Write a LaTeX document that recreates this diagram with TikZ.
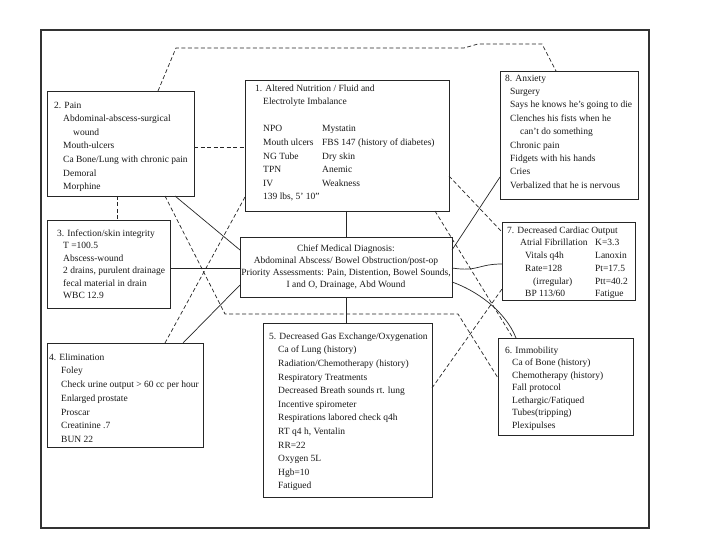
\documentclass[tikz,border=0pt]{standalone}
\usepackage{fontspec}
\setmainfont{Liberation Serif}
\newcommand\firstln{\rule{0pt}{7pt}}
\begin{document}
\begin{tikzpicture}[x=1pt,y=-1pt,
  boxshape/.style={draw=black!85, line width=0.8pt, anchor=north west, inner sep=0pt, outer sep=0pt},
  framebox/.style={draw=black!80, line width=1.6pt, anchor=north west, inner sep=0pt, outer sep=0pt},
  txt/.style={anchor=north west, inner sep=0pt, align=left, text=black!90},
  link/.style={draw=black!85, line width=0.7pt},
  dlink/.style={link, dash pattern=on 4pt off 2.5pt}]
\useasboundingbox (0,0) rectangle (720,540);
\fill[white] (0,0) rectangle (720,540);

% frame
\node[framebox, minimum width=608pt, minimum height=498pt] (frame) at (41,30) {};

% boxes
\node[boxshape, minimum width=147pt, minimum height=105pt] (b2) at (47,91) {};
\node[boxshape, minimum width=204pt, minimum height=131pt] (b1) at (245,80) {};
\node[boxshape, minimum width=138pt, minimum height=128pt] (b8) at (500,71) {};
\node[boxshape, minimum width=123pt, minimum height=88pt] (b3) at (47,220) {};
\node[boxshape, minimum width=212pt, minimum height=60pt] (bc) at (240,237) {};
\node[boxshape, minimum width=133pt, minimum height=78pt] (b7) at (502,222) {};
\node[boxshape, minimum width=156pt, minimum height=104pt] (b4) at (47,343) {};
\node[boxshape, minimum width=169pt, minimum height=174pt] (b5) at (263,323) {};
\node[boxshape, minimum width=135pt, minimum height=97pt] (b6) at (498,338) {};

% texts
\node[txt, font=\fontsize{9.5}{13.6}\selectfont] (t2) at (54,101) {\firstln 2. Pain\\
\hspace*{9pt}Abdominal-abscess-surgical\\
\hspace*{19pt}wound\\
\hspace*{9pt}Mouth-ulcers\\
\hspace*{9pt}Ca Bone/Lung with chronic pain\\
\hspace*{9pt}Demoral\\
\hspace*{9pt}Morphine};

\node[txt, font=\fontsize{9.5}{13.6}\selectfont] (t1) at (255,84) {\firstln 1. Altered Nutrition / Fluid and\\
\hspace*{8pt}Electrolyte Imbalance\\[13.6pt]
\hspace*{8pt}\makebox[59pt][l]{NPO}Mystatin\\
\hspace*{8pt}\makebox[59pt][l]{Mouth ulcers}FBS 147 (history of diabetes)\\
\hspace*{8pt}\makebox[59pt][l]{NG Tube}Dry skin\\
\hspace*{8pt}\makebox[59pt][l]{TPN}Anemic\\
\hspace*{8pt}\makebox[59pt][l]{IV}Weakness\\
\hspace*{8pt}139 lbs, 5' 10"};

\node[txt, font=\fontsize{9.5}{13.4}\selectfont] (t8) at (505,74) {\firstln 8. Anxiety\\
\hspace*{5pt}Surgery\\
\hspace*{5pt}Says he knows he's going to die\\
\hspace*{5pt}Clenches his fists when he\\
\hspace*{15pt}can't do something\\
\hspace*{5pt}Chronic pain\\
\hspace*{5pt}Fidgets with his hands\\
\hspace*{5pt}Cries\\
\hspace*{5pt}Verbalized that he is nervous};

\node[txt, font=\fontsize{9.5}{12.5}\selectfont] (t3) at (57,229) {\firstln 3. Infection/skin integrity\\
\hspace*{6pt}T =100.5\\
\hspace*{6pt}Abscess-wound\\
\hspace*{6pt}2 drains, purulent drainage\\
\hspace*{6pt}fecal material in drain\\
\hspace*{6pt}WBC 12.9};

\node[txt, anchor=north, align=center, font=\fontsize{9.5}{12}\selectfont] (tc) at (346,244) {\firstln Chief Medical Diagnosis:\\
Abdominal Abscess/ Bowel Obstruction/post-op\\
Priority Assessments: Pain, Distention, Bowel Sounds,\\
I and O, Drainage, Abd Wound};

\node[txt, font=\fontsize{9.5}{12.7}\selectfont] (t7) at (507,226) {\firstln 7. Decreased Cardiac Output\\
\hspace*{13pt}\makebox[75pt][l]{Atrial Fibrillation}K=3.3\\
\hspace*{18pt}\makebox[70pt][l]{Vitals q4h}Lanoxin\\
\hspace*{18pt}\makebox[70pt][l]{Rate=128}Pt=17.5\\
\hspace*{26pt}\makebox[62pt][l]{(irregular)}Ptt=40.2\\
\hspace*{18pt}\makebox[70pt][l]{BP 113/60}Fatigue};

\node[txt, font=\fontsize{9.5}{13.7}\selectfont] (t4) at (49,353) {\firstln 4. Elimination\\
\hspace*{12pt}Foley\\
\hspace*{12pt}Check urine output > 60 cc per hour\\
\hspace*{12pt}Enlarged prostate\\
\hspace*{12pt}Proscar\\
\hspace*{12pt}Creatinine .7\\
\hspace*{12pt}BUN 22};

\node[txt, font=\fontsize{9.5}{13.6}\selectfont] (t5) at (269,332) {\firstln 5. Decreased Gas Exchange/Oxygenation\\
\hspace*{9pt}Ca of Lung (history)\\
\hspace*{9pt}Radiation/Chemotherapy (history)\\
\hspace*{9pt}Respiratory Treatments\\
\hspace*{9pt}Decreased Breath sounds rt. lung\\
\hspace*{9pt}Incentive spirometer\\
\hspace*{9pt}Respirations labored check q4h\\
\hspace*{9pt}RT q4 h, Ventalin\\
\hspace*{9pt}RR=22\\
\hspace*{9pt}Oxygen 5L\\
\hspace*{9pt}Hgb=10\\
\hspace*{9pt}Fatigued};

\node[txt, font=\fontsize{9.5}{12.5}\selectfont] (t6) at (505,346) {\firstln 6. Immobility\\
\hspace*{7pt}Ca of Bone (history)\\
\hspace*{7pt}Chemotherapy (history)\\
\hspace*{7pt}Fall protocol\\
\hspace*{7pt}Lethargic/Fatiqued\\
\hspace*{7pt}Tubes(tripping)\\
\hspace*{7pt}Plexipulses};

% bend points
\coordinate (k1) at (176,48);
\coordinate (k2) at (464,48);
\coordinate (k3) at (478,44);
\coordinate (k4) at (542,44);
\coordinate (k5) at (225,314);
\coordinate (k6) at (458,314);

% connectors
\draw[dlink] (158,0 |- b2.north) -- (k1) -- (k2) -- (k3) -- (k4) -- (556,0 |- b8.north);
\draw[dlink] (b2.east |- 0,147) -- (b1.west |- 0,147);
\draw[dlink] (117,0 |- b2.south) -- (117,0 |- b3.north);
\draw[link] (175,0 |- b2.south) -- (bc.west |- 0,250);
\draw[dlink] (165,0 |- b2.south) -- (k5) -- (k6) -- (b6.west |- 0,378);
\draw[dlink] (b1.west |- 0,197) -- (165,0 |- b4.north);
\draw[link] (bc.west |- 0,285) -- (183,0 |- b4.north);
\draw[link] (b3.east |- 0,268) -- (bc.west |- 0,268);
\draw[dlink] (b1.east |- 0,176) -- (b7.west |- 0,232);
\draw[dlink] (435,0 |- b1.south) -- (513,0 |- b6.north);
\draw[link] (bc.east |- 0,250) -- (b8.west |- 0,177);
\draw[link] (bc.east |- 0,268) .. controls (478,272) and (478,264) .. (b7.west |- 0,264);
\draw[link] (bc.east |- 0,282) .. controls (475,290) and (505,310) .. (516,0 |- b6.north);
\draw[dlink] (b5.east |- 0,388) -- (b7.west |- 0,289);
\draw[link] (346,0 |- b1.south) -- (346,0 |- bc.north);
\draw[link] (346,0 |- bc.south) -- (346,0 |- b5.north);
\end{tikzpicture}
\end{document}
